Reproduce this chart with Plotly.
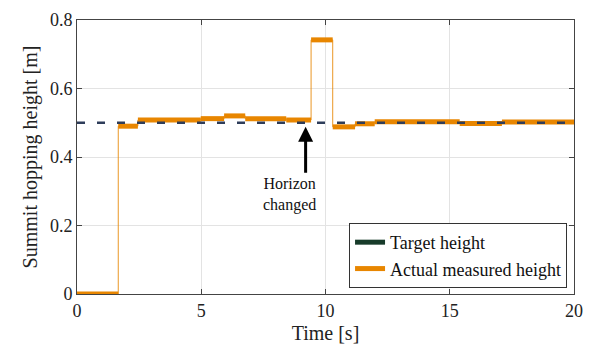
import plotly.graph_objects as go

# Step change times [s] and measured heights [m]
step_times = [0, 1.66, 2.45, 4.98, 5.92, 6.77, 8.42, 9.42, 10.29, 11.19, 11.98, 15.4, 17.1, 20]
step_values = [0, 0.49, 0.508, 0.512, 0.52, 0.512, 0.508, 0.742, 0.488, 0.497, 0.503, 0.498, 0.502]
target_height = 0.5
x_ticks = [0, 5, 10, 15, 20]
y_ticks = [0, 0.2, 0.4, 0.6, 0.8]

ORANGE = "#E88600"
NAVY = "#2E3D5A"
GREEN = "#173B2A"
FONT = "Liberation Serif"

# stairs
sx = step_times
sy = step_values + [step_values[-1]]

# thick horizontal segments
hx, hy = [], []
for i, v in enumerate(step_values):
    hx += [step_times[i], step_times[i + 1], None]
    hy += [v, v, None]

fig = go.Figure()
fig.add_trace(go.Scatter(x=sx, y=sy, mode="lines", line=dict(shape="hv", color=ORANGE, width=1),
                         opacity=0.85, showlegend=False, hoverinfo="skip"))
fig.add_trace(go.Scatter(x=hx, y=hy, mode="lines", line=dict(color=ORANGE, width=5),
                         showlegend=False, cliponaxis=False))
fig.add_trace(go.Scatter(x=[0, 20], y=[target_height, target_height], mode="lines",
                         line=dict(color=NAVY, width=2.5, dash="8px,12px"), showlegend=False))
# legend entries
fig.add_trace(go.Scatter(x=[None], y=[None], mode="lines", line=dict(color=GREEN, width=5),
                         name="Target height"))
fig.add_trace(go.Scatter(x=[None], y=[None], mode="lines", line=dict(color=ORANGE, width=5),
                         name="Actual measured height"))

fig.add_annotation(x=9.2, y=0.488, ax=9.2, ay=0.35, axref="x", ayref="y", xref="x", yref="y",
                   showarrow=True, arrowhead=2, arrowsize=1, arrowwidth=3, arrowcolor="black", text="")
fig.add_annotation(x=8.55, y=0.29, xref="x", yref="y", showarrow=False,
                   text="Horizon<br>changed", font=dict(family=FONT, size=16, color="#111"))

axis_common = dict(showline=True, linecolor="#444", linewidth=1, mirror="ticks", ticks="inside",
                   ticklen=5, tickcolor="#444", showgrid=True, gridcolor="#e3e3e3", gridwidth=1,
                   zeroline=False, tickfont=dict(family=FONT, size=18, color="#222"))
fig.update_xaxes(range=[0, 20], tickvals=x_ticks, title=dict(text="Time [s]", font=dict(family=FONT, size=20, color="#222"), standoff=6),
                 **axis_common)
fig.update_yaxes(range=[0, 0.8], tickvals=y_ticks, ticktext=["0", "0.2", "0.4", "0.6", "0.8"],
                 title=dict(text="Summit hopping height [m]", font=dict(family=FONT, size=20, color="#222"), standoff=6),
                 **axis_common)

fig.update_layout(width=593, height=354, margin=dict(l=77, r=10, t=17, b=60),
                  font=dict(family=FONT, color="#222"),
                  plot_bgcolor="white", paper_bgcolor="white",
                  legend=dict(x=0.986, y=0.022, xanchor="right", yanchor="bottom", bgcolor="white",
                              bordercolor="#333", borderwidth=1, font=dict(family=FONT, size=18, color="#111"),
                              itemwidth=30, tracegroupgap=0))
fig.write_html("out.html")
